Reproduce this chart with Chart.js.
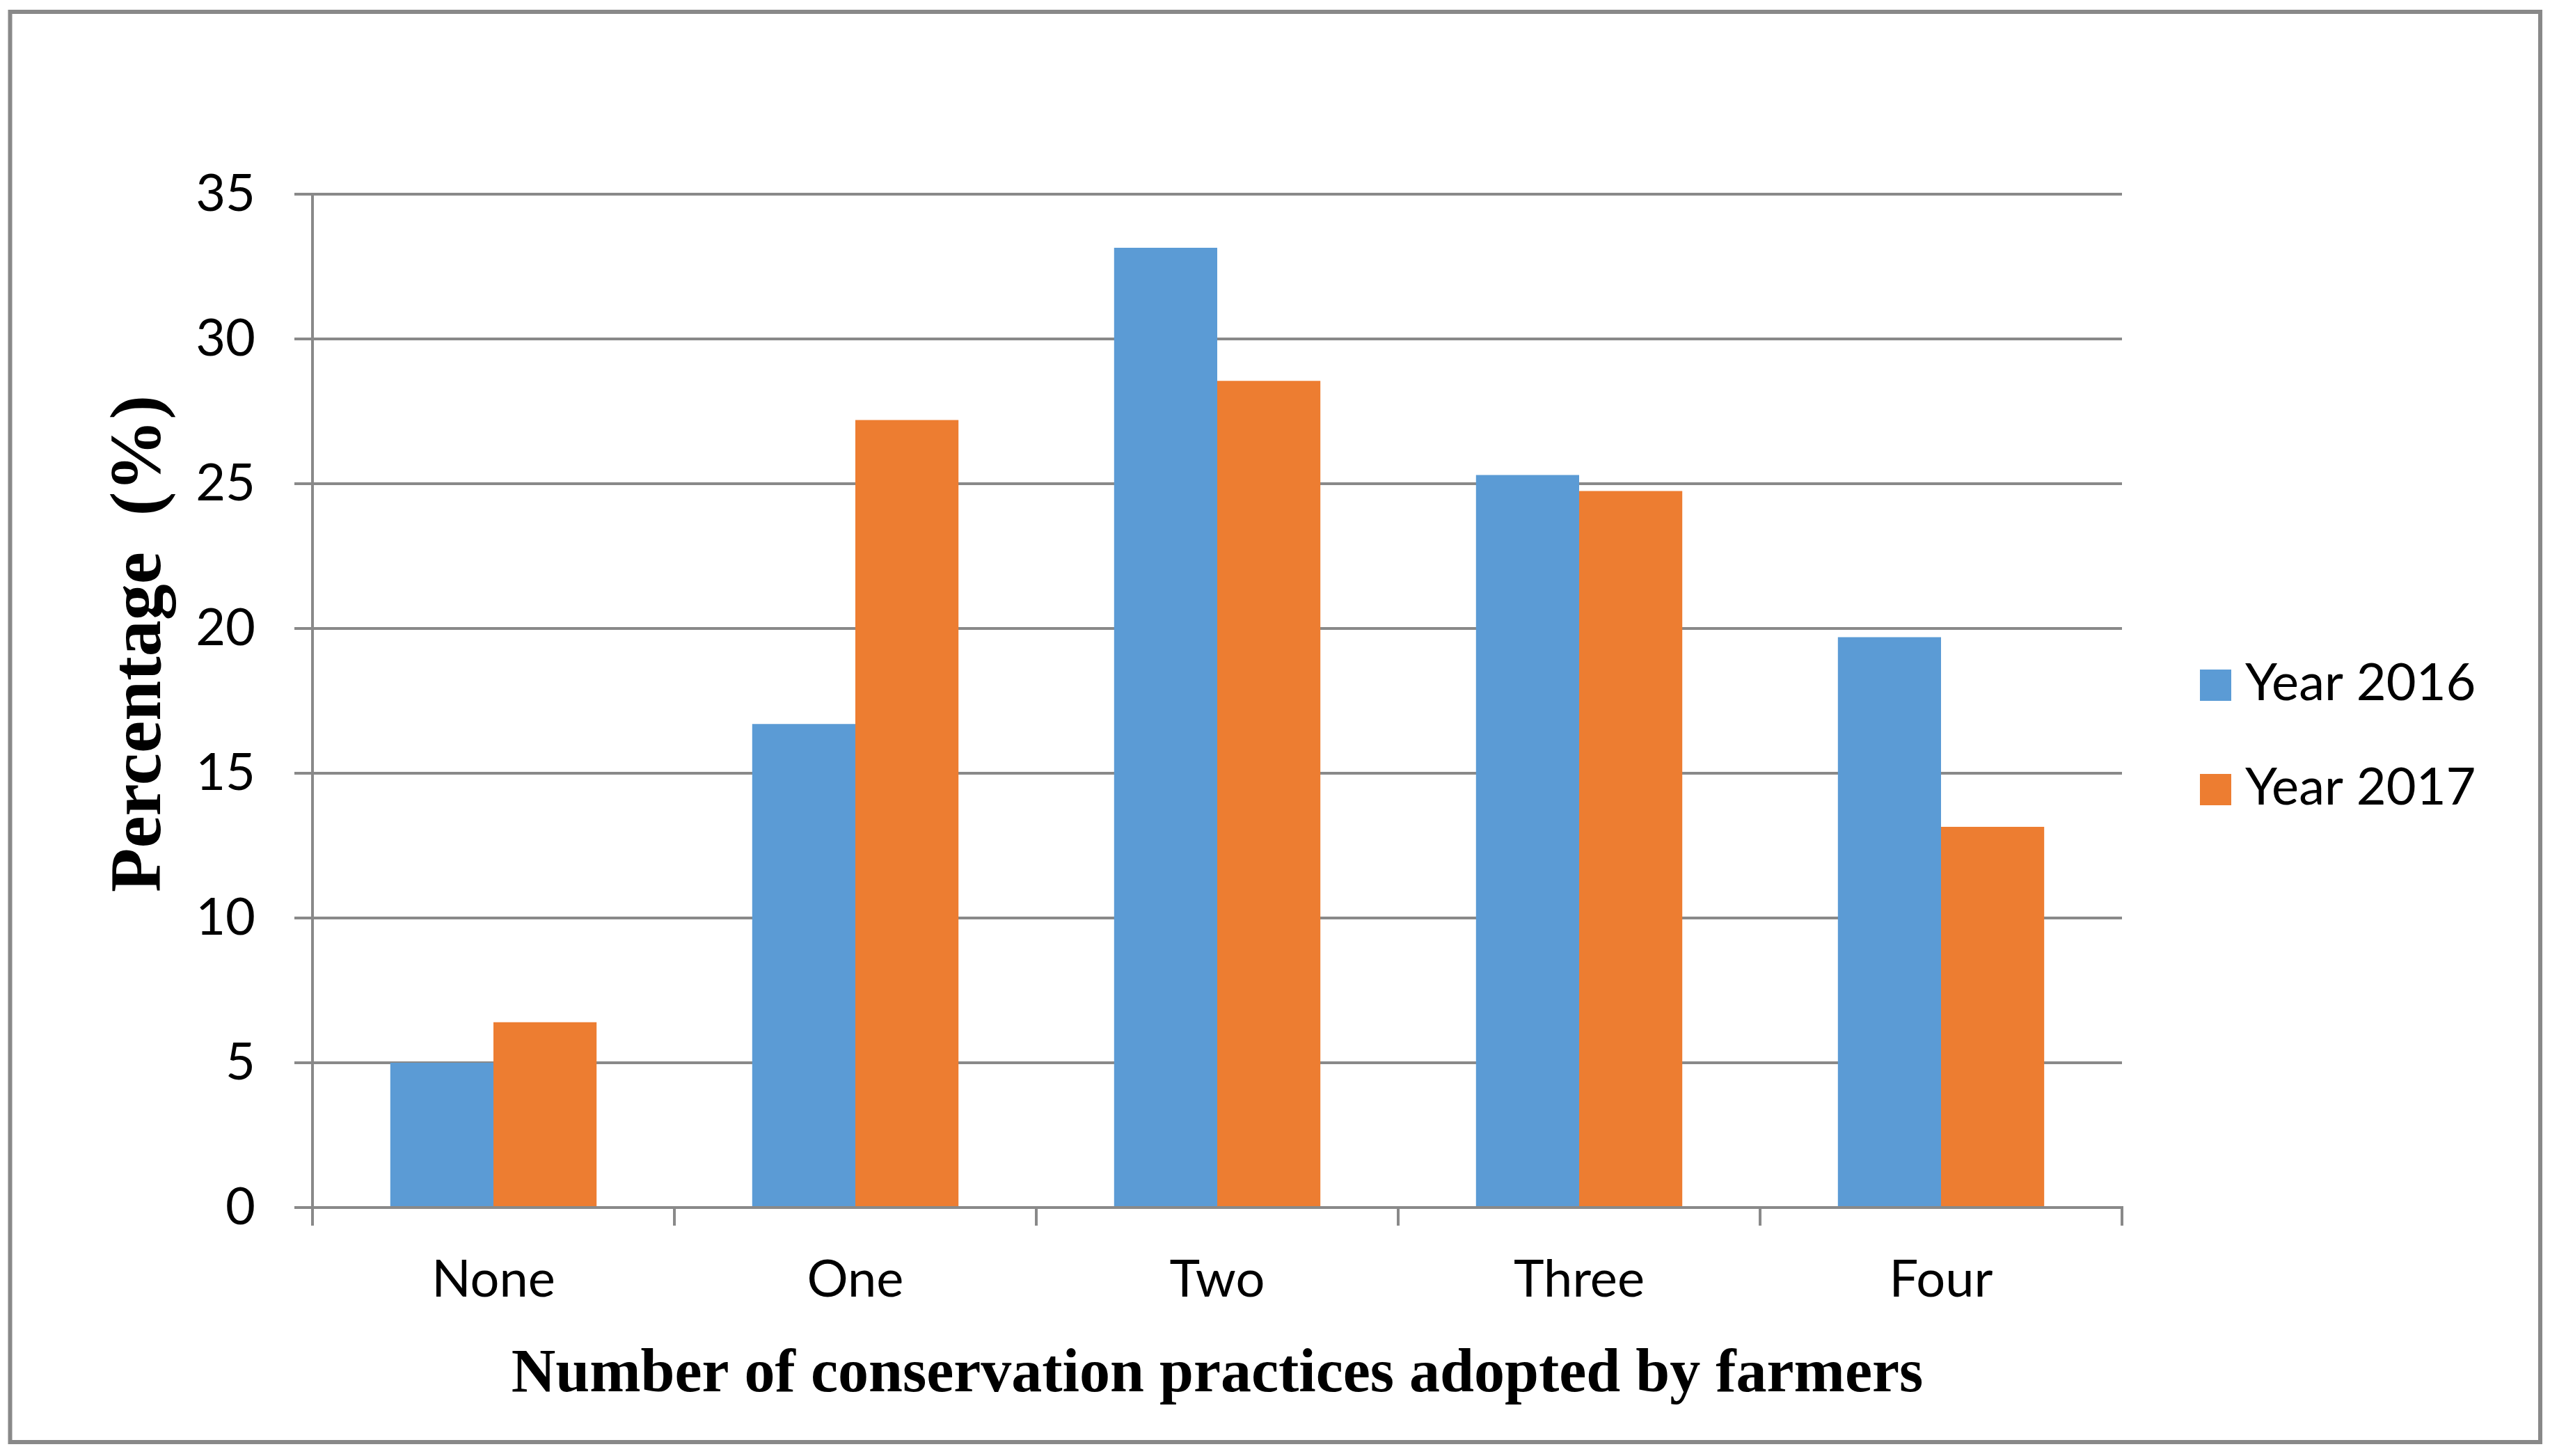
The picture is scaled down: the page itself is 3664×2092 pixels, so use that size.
<!DOCTYPE html>
<html lang="en">
<head>
<meta charset="utf-8">
<title>Number of conservation practices adopted by farmers</title>
<script src="https://cdn.jsdelivr.net/npm/chart.js@4.4.1/dist/chart.umd.min.js"></script>
<style>
    html, body { margin: 0; padding: 0; background: #fff; }
    #wrap { width: 3664px; height: 2092px; }
</style>
</head>
<body>
<div id="wrap"><canvas id="grafica" width="3664" height="2092"></canvas></div>
<script>
// Categorias del eje X (numero de practicas adoptadas)
const categories = ['None', 'One', 'Two', 'Three', 'Four'];
// Porcentajes
const year2016 = [5.0, 16.7, 33.15, 25.3, 19.7];
const year2017 = [6.4, 27.2, 28.55, 24.75, 13.15];
// Nombres de las series que aparecen en la leyenda
const seriesLabels = ['Year 2016', 'Year 2017'];
// Marcas del eje Y
const yTicks = [0, 5, 10, 15, 20, 25, 30, 35];
// Titulos de los ejes
const xTitle = 'Number of conservation practices adopted by farmers';
const yTitle = 'Percentage  (%)';

const GRAY = '#898989';
const BLUE = '#5B9BD5';
const ORANGE = '#ED7D31';

/* Marco exterior, titulo vertical y leyenda a la derecha */
const decoration = {
    id: 'decoration',
    beforeDraw(chart) {
        const ctx = chart.ctx;
        ctx.save();
        ctx.fillStyle = '#fff';
        ctx.fillRect(0, 0, chart.width, chart.height);
        ctx.restore();
    },
    afterDraw(chart) {
        const ctx = chart.ctx;
        ctx.save();
        ctx.strokeStyle = GRAY;
        ctx.lineWidth = 6;
        ctx.strokeRect(14.5, 17, 3635.5, 2055);

        // Titulo del eje Y (un poco por encima del centro, como en el original)
        ctx.save();
        ctx.translate(203, 925);
        ctx.rotate(-Math.PI / 2);
        ctx.font = 'bold 104px "Liberation Serif"';
        ctx.fillStyle = '#000';
        ctx.textAlign = 'center';
        ctx.textBaseline = 'middle';
        ctx.fillText(yTitle, 0, 0);
        ctx.restore();

        // Leyenda: cuadrado de color + nombre de la serie
        ctx.font = '74px Lato';
        ctx.textAlign = 'left';
        ctx.textBaseline = 'middle';
        chart.data.datasets.forEach((ds, i) => {
            const top = 962 + i * 150;
            ctx.fillStyle = ds.backgroundColor;
            ctx.fillRect(3161, top, 45, 45);
            ctx.fillStyle = '#000';
            ctx.fillText(ds.label, 3226, top + 20);
        });
        ctx.restore();
    }
};

document.addEventListener('DOMContentLoaded', () => {
    new Chart(document.getElementById('grafica'), {
        type: 'bar',
        data: {
            labels: categories,
            datasets: [
                { label: seriesLabels[0], data: year2016, backgroundColor: BLUE, borderWidth: 0 },
                { label: seriesLabels[1], data: year2017, backgroundColor: ORANGE, borderWidth: 0 }
            ]
        },
        options: {
            responsive: false,
            animation: false,
            devicePixelRatio: 1,
            categoryPercentage: 0.57,
            barPercentage: 1.0,
            layout: { padding: { left: 140, top: 279, right: 615, bottom: 63 } },
            plugins: {
                legend: { display: false },
                tooltip: { enabled: false }
            },
            scales: {
                x: {
                    grid: { display: true, drawOnChartArea: false, drawTicks: true, tickLength: 26, color: GRAY, lineWidth: 4, offset: true },
                    border: { display: true, color: GRAY, width: 4 },
                    ticks: { color: '#000', font: { family: 'Lato', size: 74 }, padding: 34, maxRotation: 0, autoSkip: false },
                    title: {
                        display: true,
                        text: xTitle,
                        color: '#000',
                        font: { family: 'Liberation Serif', size: 88, weight: 'bold', lineHeight: 1.2 },
                        padding: 0
                    },
                    afterFit(scale) { scale.height = 294; }
                },
                y: {
                    min: yTicks[0],
                    max: yTicks[yTicks.length - 1],
                    ticks: { stepSize: yTicks[1] - yTicks[0], color: '#000', font: { family: 'Lato', size: 74 }, padding: 56 },
                    grid: { color: GRAY, lineWidth: 4, drawTicks: true, tickLength: 26 },
                    border: { display: true, color: GRAY, width: 4 },
                    afterFit(scale) { scale.width = 309; }
                }
            }
        },
        plugins: [decoration]
    });
});
</script>
</body>
</html>
